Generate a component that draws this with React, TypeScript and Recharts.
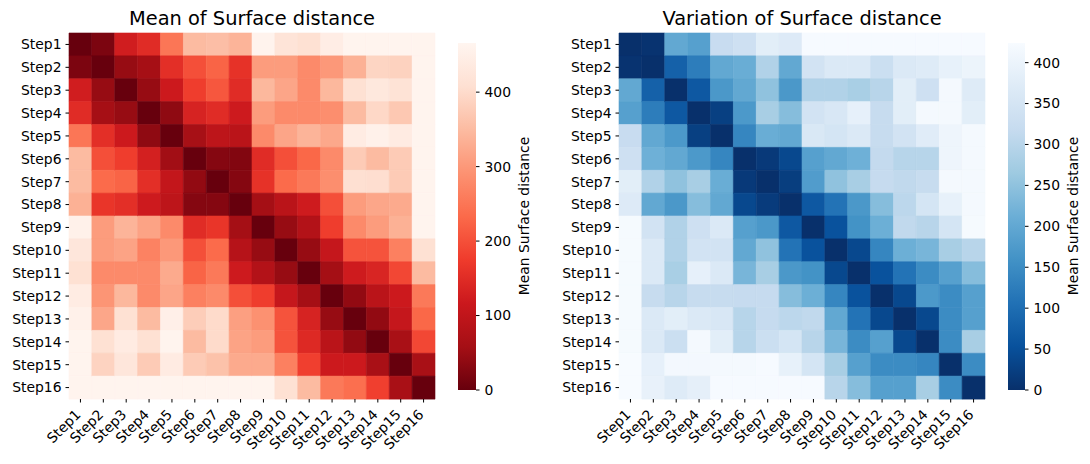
import React from "react";
import { Bar, BarChart, Cell, XAxis, YAxis } from "recharts";

const FONT = "'DejaVu Sans', sans-serif";
const TICK_FONT = 13.9;

const STEPS = [
  "Step1", "Step2", "Step3", "Step4", "Step5", "Step6", "Step7", "Step8",
  "Step9", "Step10", "Step11", "Step12", "Step13", "Step14", "Step15", "Step16",
];

// centre of each cell on the numeric x axis (0..16)
const X_TICKS = STEPS.map((_, i) => i + 0.5);

const MEAN_DIST = [
  [0, 20, 125, 150, 250, 350, 355, 340, 460, 420, 410, 445, 462, 462, 462, 462],
  [20, 0, 45, 60, 155, 200, 225, 160, 305, 305, 280, 300, 335, 390, 385, 462],
  [125, 45, 0, 45, 118, 177, 210, 150, 345, 318, 280, 345, 410, 430, 415, 462],
  [150, 60, 45, 0, 38, 135, 150, 120, 305, 280, 280, 285, 350, 395, 370, 462],
  [250, 155, 118, 38, 0, 62, 95, 90, 280, 318, 340, 322, 440, 455, 438, 462],
  [350, 200, 177, 130, 55, 0, 28, 25, 150, 200, 230, 280, 375, 350, 375, 462],
  [350, 235, 225, 155, 105, 40, 0, 28, 160, 235, 255, 285, 408, 405, 375, 462],
  [335, 165, 155, 120, 95, 28, 28, 0, 58, 90, 122, 200, 305, 320, 325, 462],
  [455, 305, 340, 315, 280, 150, 165, 58, 0, 45, 80, 177, 280, 305, 335, 462],
  [425, 305, 315, 268, 300, 200, 235, 85, 45, 0, 45, 108, 205, 205, 265, 410],
  [410, 280, 280, 280, 325, 225, 255, 120, 80, 45, 0, 58, 122, 138, 190, 350],
  [440, 295, 345, 280, 318, 265, 280, 200, 177, 108, 58, 0, 40, 90, 118, 255],
  [455, 320, 410, 350, 450, 378, 400, 310, 290, 205, 135, 45, 0, 40, 108, 230],
  [462, 410, 438, 410, 462, 350, 400, 315, 305, 205, 145, 90, 40, 0, 65, 190],
  [462, 388, 425, 375, 438, 375, 360, 325, 325, 265, 180, 118, 118, 65, 0, 65],
  [462, 462, 462, 462, 462, 462, 462, 462, 462, 410, 350, 255, 240, 180, 65, 0],
];

const VAR_DIST = [
  [0, 5, 200, 185, 322, 335, 380, 368, 422, 422, 422, 422, 422, 422, 422, 422],
  [5, 0, 80, 125, 200, 210, 290, 200, 345, 365, 365, 330, 365, 372, 390, 400],
  [200, 80, 0, 65, 170, 200, 250, 170, 290, 290, 280, 300, 380, 335, 418, 370],
  [185, 125, 65, 0, 25, 172, 278, 240, 345, 358, 388, 320, 380, 418, 418, 380],
  [322, 200, 172, 25, 0, 140, 210, 200, 360, 350, 365, 320, 345, 375, 405, 418],
  [335, 215, 200, 172, 140, 0, 15, 38, 185, 200, 215, 315, 298, 298, 405, 418],
  [380, 290, 250, 278, 210, 15, 0, 22, 178, 250, 278, 318, 312, 320, 418, 418],
  [368, 200, 170, 240, 200, 38, 18, 0, 65, 110, 170, 240, 305, 350, 390, 418],
  [420, 345, 290, 335, 365, 185, 170, 65, 0, 55, 160, 213, 312, 300, 350, 420],
  [420, 365, 290, 345, 345, 200, 250, 110, 55, 0, 38, 140, 213, 225, 278, 300],
  [420, 365, 280, 388, 365, 225, 278, 170, 160, 38, 0, 55, 110, 150, 185, 240],
  [420, 320, 300, 320, 320, 318, 318, 240, 213, 140, 55, 0, 38, 172, 150, 185],
  [420, 365, 380, 365, 358, 298, 318, 305, 312, 200, 110, 38, 0, 38, 150, 185],
  [420, 365, 330, 418, 380, 298, 330, 350, 300, 225, 150, 185, 38, 0, 150, 278],
  [424, 388, 415, 415, 418, 418, 422, 390, 350, 278, 185, 150, 150, 140, 0, 150],
  [424, 392, 370, 385, 422, 422, 422, 422, 422, 300, 240, 185, 185, 278, 150, 0],
];

const MEAN_MAX = 466;
const VAR_MAX = 424;
const MEAN_TICKS = [0, 100, 200, 300, 400];
const VAR_TICKS = [0, 50, 100, 150, 200, 250, 300, 350, 400];

// matplotlib Reds / Blues, light -> dark
const REDS = ["#fff5f0", "#fee0d2", "#fcbba1", "#fc9272", "#fb6a4a", "#ef3b2c", "#cb181d", "#a50f15", "#67000d"];
const BLUES = ["#f7fbff", "#deebf7", "#c6dbef", "#9ecae1", "#6baed6", "#4292c6", "#2171b5", "#08519c", "#08306b"];

const hex = (c: string) => [1, 3, 5].map((i) => parseInt(c.slice(i, i + 2), 16));

// reversed map: low value = dark end
const colorFor = (v: number, vmax: number, stops: string[]) => {
  const s = Math.max(0, Math.min(1, v / vmax));
  const pos = (1 - s) * (stops.length - 1);
  const i = Math.min(Math.floor(pos), stops.length - 2);
  const f = pos - i;
  const a = hex(stops[i]);
  const b = hex(stops[i + 1]);
  const m = a.map((x, j) => Math.round(x + (b[j] - x) * f));
  return `rgb(${m[0]},${m[1]},${m[2]})`;
};

const XTick = ({ x, y, payload }: any) => {
  const px = x + 1;
  const py = y + 10;
  return (
    <text
      x={px}
      y={py}
      transform={`rotate(-45, ${px}, ${py})`}
      textAnchor="end"
      fontSize={TICK_FONT}
      fontFamily={FONT}
      fill="#000"
    >
      {STEPS[Math.round(payload.value - 0.5)]}
    </text>
  );
};

interface HeatmapProps {
  values: number[][];
  vmax: number;
  stops: string[];
  yAxisWidth: number;
  marginRight: number;
}

const Heatmap = ({ values, vmax, stops, yAxisWidth, marginRight }: HeatmapProps) => {
  const rows = STEPS.map((step) => {
    const row: Record<string, any> = { step };
    STEPS.forEach((_, k) => {
      row[`c${k}`] = 1;
    });
    return row;
  });

  return (
    <BarChart
      layout="vertical"
      width={460}
      height={464}
      data={rows}
      margin={{ top: 33, right: marginRight, bottom: 0, left: 0 }}
      barCategoryGap={0}
    >
      <XAxis
        type="number"
        domain={[0, 16]}
        ticks={X_TICKS}
        interval={0}
        height={65}
        axisLine={false}
        tickLine={{ stroke: "#000" }}
        tickSize={3.5}
        tickMargin={3}
        tick={<XTick />}
      />
      <YAxis
        type="category"
        dataKey="step"
        width={yAxisWidth}
        interval={0}
        axisLine={false}
        tickLine={{ stroke: "#000" }}
        tickSize={3.5}
        tickMargin={4}
        tick={{ fontSize: TICK_FONT, fill: "#000", fontFamily: FONT }}
      />
      {STEPS.map((_, k) => (
        <Bar key={k} dataKey={`c${k}`} stackId="cells" isAnimationActive={false}>
          {values.map((row, i) => {
            const c = colorFor(row[k], vmax, stops);
            return <Cell key={i} fill={c} stroke={c} strokeWidth={0.6} />;
          })}
        </Bar>
      ))}
    </BarChart>
  );
};

interface ColorbarProps {
  id: string;
  vmax: number;
  stops: string[];
  ticks: number[];
  width: number;
  barWidth: number;
}

const Colorbar = ({ id, vmax, stops, ticks, width, barWidth }: ColorbarProps) => (
  <BarChart
    width={width}
    height={464}
    data={[{ k: "cb", range: [0, vmax] }]}
    margin={{ top: 43, bottom: 74, left: 8, right: width - 8 - barWidth - 40 }}
    barCategoryGap={0}
  >
    <defs>
      <linearGradient id={id} x1="0" y1="1" x2="0" y2="0">
        {stops.map((_, i) => (
          <stop key={i} offset={i / (stops.length - 1)} stopColor={stops[stops.length - 1 - i]} />
        ))}
      </linearGradient>
    </defs>
    <XAxis dataKey="k" hide />
    <YAxis
      orientation="right"
      type="number"
      domain={[0, vmax]}
      ticks={ticks}
      interval={0}
      width={40}
      axisLine={false}
      tickLine={{ stroke: "#000" }}
      tickSize={3.5}
      tickMargin={5}
      tick={{ fontSize: TICK_FONT, fill: "#000", fontFamily: FONT, textAnchor: "start" }}
    />
    <Bar dataKey="range" fill={`url(#${id})`} isAnimationActive={false} />
  </BarChart>
);

export default function App() {
  return (
    <div style={{ position: "absolute", left: 0, top: 0, width: 1090, height: 464, background: "#fff" }}>
      <div style={{ position: "absolute", left: 0, top: 0 }}>
        <Heatmap values={MEAN_DIST} vmax={MEAN_MAX} stops={REDS} yAxisWidth={69} marginRight={25} />
      </div>
      <div style={{ position: "absolute", left: 450, top: 0 }}>
        <Colorbar id="cbReds" vmax={MEAN_MAX} stops={REDS} ticks={MEAN_TICKS} width={100} barWidth={18} />
      </div>
      <div style={{ position: "absolute", left: 540, top: 0 }}>
        <Heatmap values={VAR_DIST} vmax={VAR_MAX} stops={BLUES} yAxisWidth={79} marginRight={15} />
      </div>
      <div style={{ position: "absolute", left: 1000, top: 0 }}>
        <Colorbar id="cbBlues" vmax={VAR_MAX} stops={BLUES} ticks={VAR_TICKS} width={90} barWidth={17} />
      </div>
      <svg
        width={1090}
        height={464}
        style={{ position: "absolute", left: 0, top: 0, pointerEvents: "none" }}
        fontFamily={FONT}
      >
        <text x={252} y={25} textAnchor="middle" fontSize={19.4} fill="#000">
          Mean of Surface distance
        </text>
        <text x={802} y={25} textAnchor="middle" fontSize={19.4} fill="#000">
          Variation of Surface distance
        </text>
        <text x={524} y={216} textAnchor="middle" fontSize={TICK_FONT} fill="#000" transform="rotate(-90, 524, 216)" dy="0.35em">
          Mean Surface distance
        </text>
        <text x={1073} y={216} textAnchor="middle" fontSize={TICK_FONT} fill="#000" transform="rotate(-90, 1073, 216)" dy="0.35em">
          Mean Surface distance
        </text>
      </svg>
    </div>
  );
}
